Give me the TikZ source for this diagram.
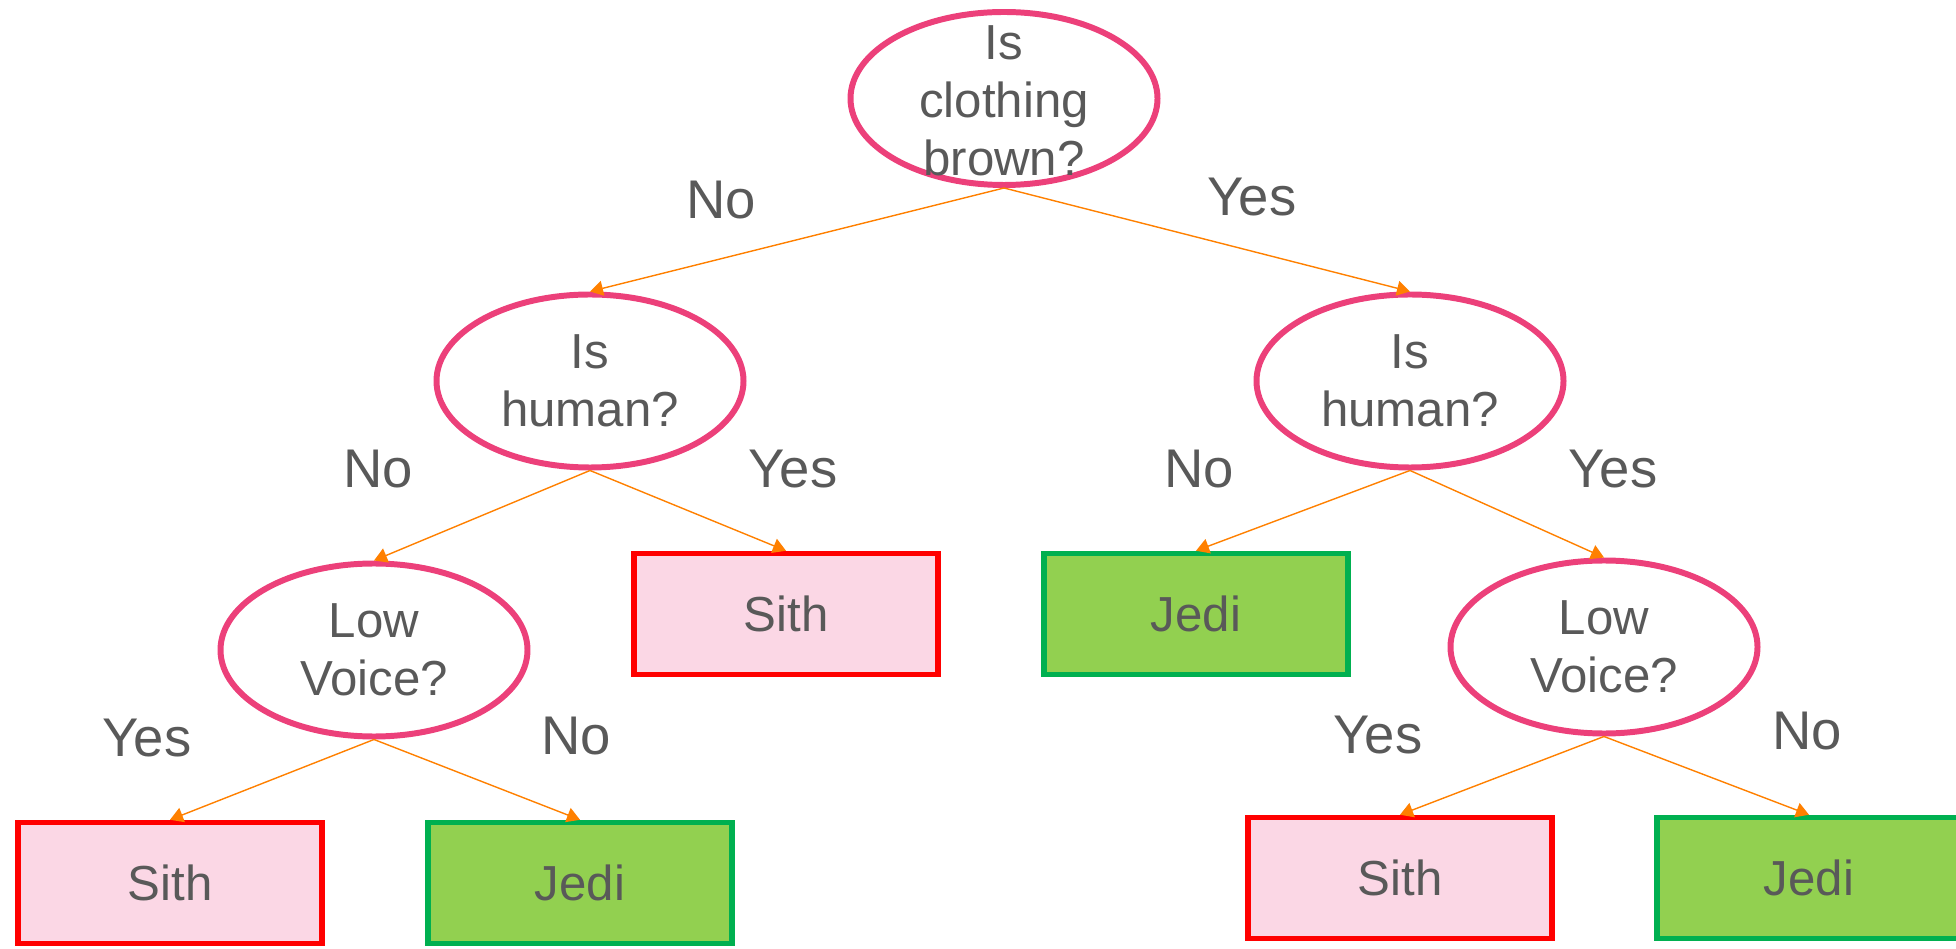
\documentclass[tikz,border=0pt]{standalone}
\usepackage{fontspec}
\setmainfont{Liberation Sans}
\usetikzlibrary{arrows.meta,shapes.geometric}

\definecolor{qpink}{RGB}{236,64,122}
\definecolor{sithred}{RGB}{255,0,0}
\definecolor{sithfill}{RGB}{251,215,229}
\definecolor{jedigreen}{RGB}{0,176,80}
\definecolor{jedifill}{RGB}{146,208,80}
\definecolor{textgray}{RGB}{89,89,89}
\definecolor{branchorange}{RGB}{255,128,0}

\begin{document}
\begin{tikzpicture}[scale=1,
            question/.style={ellipse, draw=qpink, line width=3.4pt, minimum width=6.14cm, minimum height=3.46cm, inner sep=0pt},
            qtext/.style={text=textgray, align=center, font=\fontsize{28}{33}\selectfont},
            sithbox/.style={rectangle, draw=sithred, fill=sithfill, line width=3.1pt, minimum width=6.08cm, minimum height=2.42cm, text=textgray, font=\fontsize{28}{32}\selectfont},
            jedibox/.style={sithbox, draw=jedigreen, fill=jedifill},
            answer/.style={text=textgray, font=\fontsize{31}{36}\selectfont},
            branch/.style={branchorange, line width=0.8pt, -{Triangle[length=0.26cm, width=0.3cm]}}]

            \useasboundingbox (0,0) rectangle (39.12,18.96);

            \node[question, label={[qtext, yshift=-0.04cm]center:Is\\clothing\\brown?}] (root) at (20.08, 16.99) {};
            \node[question, label={[qtext]center:Is\\human?}] (lhuman) at (11.80, 11.34) {};
            \node[question, label={[qtext]center:Is\\human?}] (rhuman) at (28.20, 11.34) {};
            \node[question, label={[qtext]center:Low\\Voice?}] (lvoice) at (7.48, 5.96) {};
            \node[question, label={[qtext]center:Low\\Voice?}] (rvoice) at (32.08, 6.02) {};

            \node[sithbox] (sith1) at (15.72, 6.68) {Sith};
            \node[jedibox] (jedi1) at (23.92, 6.68) {Jedi};
            \node[sithbox] (sith2) at (3.40, 1.30) {Sith};
            \node[jedibox] (jedi2) at (11.60, 1.30) {Jedi};
            \node[sithbox] (sith3) at (28.00, 1.40) {Sith};
            \node[jedibox] (jedi3) at (36.18, 1.40) {Jedi};

            \draw[branch] (root.south) -- (lhuman.north);
            \draw[branch] (root.south) -- (rhuman.north);
            \draw[branch] (lhuman.south) -- (lvoice.north);
            \draw[branch] (lhuman.south) -- (sith1.north);
            \draw[branch] (rhuman.south) -- (jedi1.north);
            \draw[branch] (rhuman.south) -- (rvoice.north);
            \draw[branch] (lvoice.south) -- (sith2.north);
            \draw[branch] (lvoice.south) -- (jedi2.north);
            \draw[branch] (rvoice.south) -- (sith3.north);
            \draw[branch] (rvoice.south) -- (jedi3.north);

            \node[answer] (no1) at (14.42, 14.96) {No};
            \node[answer] (yes1) at (25.04, 15.02) {Yes};
            \node[answer] (no2) at (7.56, 9.58) {No};
            \node[answer] (yes2) at (15.86, 9.58) {Yes};
            \node[answer] (no3) at (23.98, 9.58) {No};
            \node[answer] (yes3) at (32.26, 9.58) {Yes};
            \node[answer] (yes4) at (2.94, 4.20) {Yes};
            \node[answer] (no4) at (11.52, 4.24) {No};
            \node[answer] (yes5) at (27.56, 4.26) {Yes};
            \node[answer] (no5) at (36.14, 4.34) {No};

\end{tikzpicture}
\end{document}
